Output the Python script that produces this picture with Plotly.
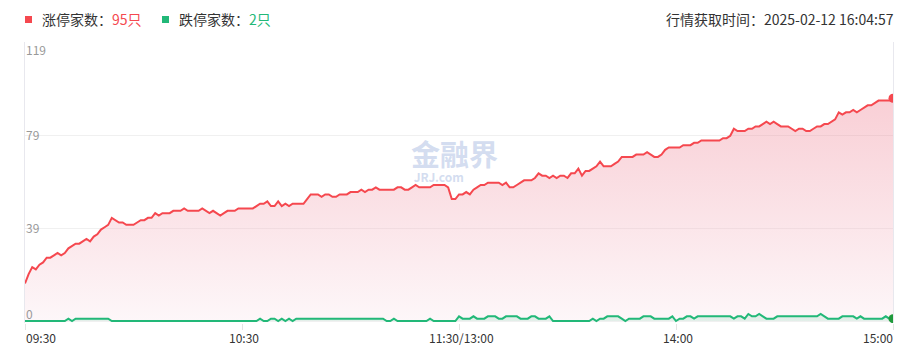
import plotly.graph_objects as go

# ---- data (one value per trading minute, 09:30-11:30, 13:00-15:00) ----
limit_up = [
    16, 20, 23, 22, 24, 25, 27, 27, 28, 29,
    28, 29, 31, 32, 33, 33, 34, 35, 34, 36,
    37, 39, 40, 41, 44, 43, 42, 42, 41, 41,
    41, 42, 43, 43, 44, 44, 46, 45, 46, 46,
    46, 47, 47, 47, 48, 47, 47, 47, 47, 48,
    47, 46, 47, 46, 45, 46, 47, 47, 47, 48,
    48, 48, 48, 48, 49, 50, 50, 51, 49, 49,
    51, 49, 50, 49, 50, 50, 50, 50, 52, 54,
    54, 54, 53, 54, 54, 53, 53, 54, 54, 54,
    55, 55, 55, 56, 55, 56, 56, 57, 56, 56,
    56, 56, 56, 57, 57, 56, 56, 57, 58, 57,
    57, 57, 57, 58, 58, 58, 58, 57, 52, 52,
    54, 54, 55, 54, 56, 57, 58, 58, 59, 59,
    59, 59, 58, 59, 57, 57, 58, 59, 60, 60,
    60, 61, 63, 62, 62, 61, 62, 61, 62, 62,
    61, 63, 63, 65, 62, 64, 64, 65, 66, 68,
    66, 66, 66, 67, 68, 70, 70, 70, 70, 71,
    71, 71, 72, 71, 70, 70, 71, 73, 74, 74,
    74, 74, 75, 75, 75, 76, 76, 77, 77, 77,
    77, 77, 77, 78, 78, 79, 82, 81, 81, 81,
    82, 82, 83, 83, 84, 85, 84, 85, 84, 83,
    83, 83, 82, 81, 82, 82, 81, 81, 82, 83,
    83, 84, 84, 85, 86, 89, 88, 89, 89, 90,
    89, 90, 91, 92, 92, 93, 94, 94, 94, 94,
    95,
]
limit_down = [
    0, 0, 0, 0, 0, 0, 0, 0, 0, 0,
    0, 0, 1, 0, 1, 1, 1, 1, 1, 1,
    1, 1, 1, 1, 0, 0, 0, 0, 0, 0,
    0, 0, 0, 0, 0, 0, 0, 0, 0, 0,
    0, 0, 0, 0, 0, 0, 0, 0, 0, 0,
    0, 0, 0, 0, 0, 0, 0, 0, 0, 0,
    0, 0, 0, 0, 0, 1, 0, 0, 1, 1,
    0, 1, 0, 1, 0, 1, 1, 1, 1, 1,
    1, 1, 1, 1, 1, 1, 1, 1, 1, 1,
    1, 1, 1, 1, 1, 1, 1, 1, 1, 1,
    0, 0, 1, 0, 0, 0, 0, 0, 0, 0,
    0, 0, 1, 0, 0, 0, 0, 0, 0, 0,
    2, 1, 1, 1, 2, 1, 1, 1, 2, 2,
    2, 1, 1, 2, 2, 2, 2, 1, 1, 1,
    2, 2, 1, 1, 1, 2, 0, 0, 0, 0,
    0, 0, 0, 0, 0, 0, 0, 1, 0, 1,
    1, 2, 2, 2, 2, 1, 0, 1, 1, 1,
    1, 2, 2, 2, 1, 1, 1, 1, 1, 2,
    0, 1, 1, 2, 2, 1, 2, 2, 2, 2,
    2, 2, 2, 2, 2, 2, 1, 2, 2, 1,
    3, 2, 2, 3, 2, 1, 1, 1, 2, 2,
    2, 2, 2, 2, 2, 2, 2, 2, 2, 2,
    3, 2, 1, 1, 1, 1, 2, 2, 2, 2,
    1, 2, 1, 1, 1, 1, 1, 1, 2, 1,
    1,
]
tick_pos = [0, 60, 120, 180, 240]
tick_labels = ["09:30", "10:30", "11:30/13:00", "14:00", "15:00"]
y_max = 119
y_tick_labels = ["0", "39", "79", "119"]
up_count = 95
down_count = 2
fetch_time = "2025-02-12 16:04:57"

RED = "#f5484f"
GREEN = "#22b878"
W, H = 921, 360
L, R, T, B = 25, 893, 42, 323
y_min = -(B - 321) / ((321 - T) / y_max)

def px(x):
    return (x - L) / (R - L)

def py(y):
    return (B - y) / (B - T)

x = list(range(len(limit_up)))

fig = go.Figure()
fig.add_trace(go.Scatter(
    x=x, y=limit_up, mode="lines",
    line=dict(color=RED, width=2),
    fill="tozeroy",
    fillgradient=dict(type="vertical", colorscale=[
        [0, "rgba(250,232,238,0.35)"], [1, "rgba(236,110,130,0.33)"]]),
    hoverinfo="skip",
))
fig.add_trace(go.Scatter(
    x=x, y=limit_down, mode="lines",
    line=dict(color=GREEN, width=2),
    fill="tozeroy", fillcolor="rgba(34,184,120,0.12)",
    hoverinfo="skip",
))
fig.add_trace(go.Scatter(
    x=[x[-1]], y=[limit_up[-1]], mode="markers",
    marker=dict(color=RED, size=9), hoverinfo="skip",
))
fig.add_trace(go.Scatter(
    x=[x[-1]], y=[limit_down[-1]], mode="markers",
    marker=dict(color="#1f9a3c", size=9), hoverinfo="skip",
))

ann = []
# x tick labels
for i, (p, t) in enumerate(zip(tick_pos, tick_labels)):
    anchor = "left" if i == 0 else ("right" if i == len(tick_pos) - 1 else "center")
    ann.append(dict(x=p, xref="x", y=py(337), yref="paper", text=t, showarrow=False,
                    xanchor=anchor, yanchor="middle", xshift=-1 if anchor == "left" else 2,
                    font=dict(size=12, color="#333333")))
# y tick labels (inside)
y_vals = [0, y_max / 3, 2 * y_max / 3, y_max]
y_anchor = ["bottom", "middle", "middle", "top"]
y_shift = [-3, 1, 1, 3]
for v, t, a, s in zip(y_vals, y_tick_labels, y_anchor, y_shift):
    ann.append(dict(x=0, xref="paper", y=v, yref="y", text=t, showarrow=False,
                    xanchor="left", yanchor=a, yshift=s, xshift=-1,
                    font=dict(size=12, color="#999999")))
# legend texts
ann.append(dict(x=px(40), xref="paper", y=py(19), yref="paper", showarrow=False,
                xanchor="left", yanchor="middle",
                text=f"涨停家数：<span style='color:{RED}'>{up_count}只</span>",
                font=dict(size=14, color="#333333")))
ann.append(dict(x=px(177), xref="paper", y=py(19), yref="paper", showarrow=False,
                xanchor="left", yanchor="middle",
                text=f"跌停家数：<span style='color:{GREEN}'>{down_count}只</span>",
                font=dict(size=14, color="#333333")))
ann.append(dict(x=px(896), xref="paper", y=py(19), yref="paper", showarrow=False,
                xanchor="right", yanchor="middle",
                text=f"行情获取时间：{fetch_time}",
                font=dict(size=14, color="#333333")))
# watermark (single text block)
ann.append(dict(x=px(409), xref="paper", y=py(158), yref="paper", showarrow=False,
                xanchor="left", yanchor="middle", align="left",
                text="<span style='font-size:29px'><b>金融界</b></span><br><b> JRJ.com</b>",
                font=dict(size=12, color="rgba(200,212,236,0.8)")))

shapes = [
    dict(type="rect", xref="paper", yref="paper", x0=px(25), x1=px(32), y0=py(23), y1=py(16),
         fillcolor=RED, line=dict(width=0)),
    dict(type="rect", xref="paper", yref="paper", x0=px(162), x1=px(169), y0=py(23), y1=py(16),
         fillcolor=GREEN, line=dict(width=0)),
]

fig.update_layout(
    width=W, height=H,
    margin=dict(l=L, r=W - R, t=T, b=H - B, pad=0),
    paper_bgcolor="white", plot_bgcolor="white",
    showlegend=False,
    font=dict(family="Noto Sans CJK SC, Noto Sans, sans-serif"),
    xaxis=dict(range=[0, len(limit_up) - 1], tickvals=tick_pos, showticklabels=False,
               ticks="outside", ticklen=6, tickcolor="#e3e3e3", showgrid=False,
               zeroline=False, showline=False, fixedrange=True),
    yaxis=dict(range=[y_min, y_max], tickvals=y_vals, showticklabels=False,
               showgrid=True, gridcolor="#f0f0f0", gridwidth=1, zeroline=False,
               showline=True, linecolor="#e8e8ee", linewidth=1, mirror=True,
               ticks="", fixedrange=True),
    annotations=ann,
    shapes=shapes,
)

fig.write_html("out.html", config={"displayModeBar": False},
               post_script="document.body.style.margin='0';")
